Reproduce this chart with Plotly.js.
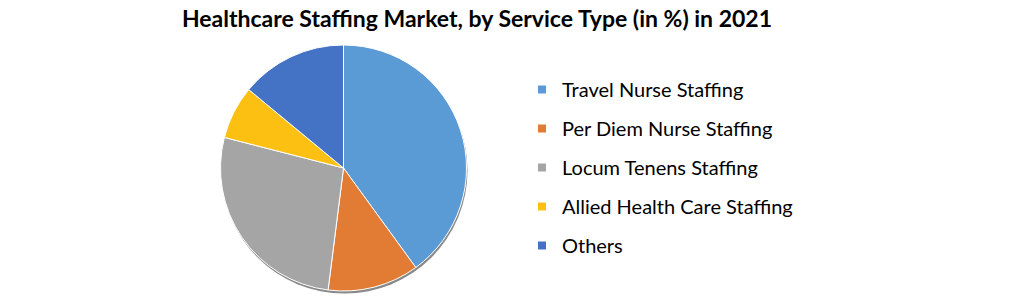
<!DOCTYPE html>
<html>
<head>
<meta charset="utf-8">
<script src="https://cdn.plot.ly/plotly-3.0.1.min.js"></script>
<style>html,body{margin:0;padding:0;background:#fff;}#chart{width:1012px;height:298px;}</style>
</head>
<body>
<div id="chart"></div>
<script>
const titleText = "Healthcare Staffing Market, by Service Type (in %) in 2021";
const categories = ["Travel Nurse Staffing", "Per Diem Nurse Staffing", "Locum Tenens Staffing", "Allied Health Care Staffing", "Others"];
const shares = [40, 12, 27, 7, 14];
const colors = ["#5B9BD5", "#E27B33", "#A5A5A5", "#FBC012", "#4472C4"];

const W = 1012, H = 298;
const FONT = "Lato, 'Open Sans', sans-serif";

// pie geometry (pixels)
const PIE_L = 219, PIE_R = 468, PIE_T = 45, PIE_B = 291;
const cx = (PIE_L + PIE_R) / 2, cy = (PIE_T + PIE_B) / 2;
const rad = Math.min(PIE_R - PIE_L, PIE_B - PIE_T) / 2;

const pie = {
  type: "pie",
  labels: categories,
  values: shares,
  sort: false,
  direction: "clockwise",
  rotation: 0,
  marker: {colors: colors, line: {color: "#ffffff", width: 1}},
  textinfo: "none",
  hoverinfo: "label+percent",
  showlegend: false,
  domain: {x: [PIE_L / W, PIE_R / W], y: [(H - PIE_B) / H, (H - PIE_T) / H]}
};

const legendTraces = categories.map((c, i) => ({
  type: "scatter",
  mode: "markers",
  x: [null], y: [null],
  name: c,
  legendgroup: "g" + i,
  marker: {symbol: "square", size: 8, color: colors[i]},
  hoverinfo: "skip",
  showlegend: true
}));

// soft drop shadow under the pie
const sdx = 1, sdy = 2.5;
const shadow = {
  type: "circle", layer: "below", xref: "paper", yref: "paper",
  x0: (cx - rad + sdx) / W, x1: (cx + rad + sdx) / W,
  y0: 1 - (cy + rad + sdy) / H, y1: 1 - (cy - rad + sdy) / H,
  fillcolor: "rgba(40,40,40,0.55)", line: {width: 0}
};

const layout = {
  width: W, height: H,
  margin: {l: 0, r: 0, t: 0, b: 0},
  paper_bgcolor: "#ffffff",
  plot_bgcolor: "rgba(0,0,0,0)",
  font: {family: FONT, color: "#000000"},
  title: {
    text: "<b>" + titleText + "</b>",
    font: {family: FONT, size: 23, color: "#000000"},
    x: 477 / W, xanchor: "center", xref: "container",
    y: 1 - 19 / H, yanchor: "middle", yref: "container"
  },
  xaxis: {visible: false, domain: [0.99, 1]},
  yaxis: {visible: false, domain: [0.99, 1]},
  shapes: [shadow],
  showlegend: true,
  legend: {
    x: 522 / W, xanchor: "left",
    y: 1 - 70 / H, yanchor: "top",
    traceorder: "grouped",
    tracegroupgap: 10,
    font: {family: FONT, size: 20, color: "#000000"},
    bgcolor: "rgba(0,0,0,0)",
    borderwidth: 0
  }
};

Plotly.newPlot("chart", [pie].concat(legendTraces), layout, {displayModeBar: false, staticPlot: true});
</script>
</body>
</html>
